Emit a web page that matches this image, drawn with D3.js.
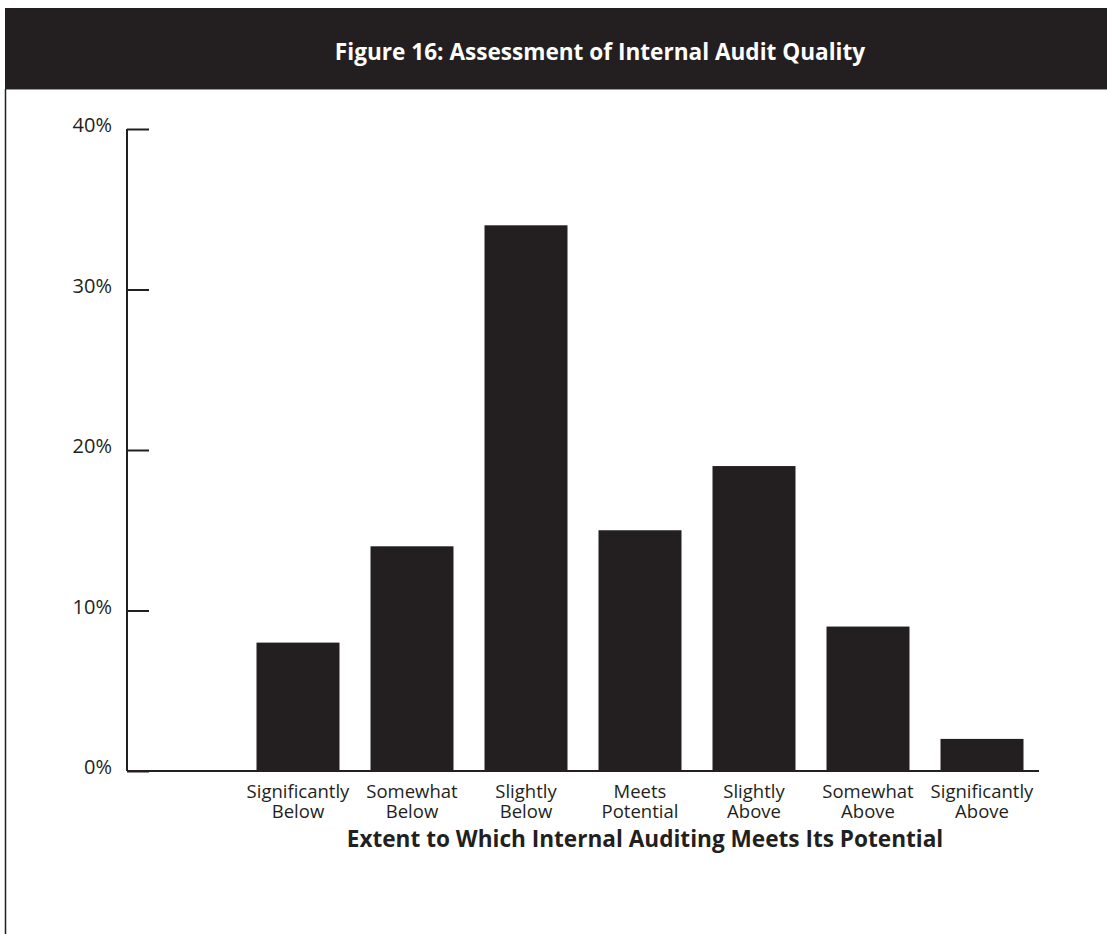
<!DOCTYPE html>
<html><head><meta charset="utf-8">
<script src="https://cdn.jsdelivr.net/npm/d3@7/dist/d3.min.js"></script>
<style>body{margin:0;background:#fff}svg{display:block}</style>
</head><body>
<svg id="c" width="1107" height="934"></svg>
<script>
const categories = ["", "Significantly\nBelow", "Somewhat\nBelow", "Slightly\nBelow", "Meets\nPotential", "Slightly\nAbove", "Somewhat\nAbove", "Significantly\nAbove"];
const values = [null, 8, 14, 34, 15, 19, 9, 2];
const yTicks = [0, 10, 20, 30, 40];
const titleText = "Figure 16: Assessment of Internal Audit Quality";
const xTitle = "Extent to Which Internal Auditing Meets Its Potential";

const dark = "#231f20";
const font = "'Open Sans', sans-serif";
const svg = d3.select("#c");

// header band
svg.append("rect").attr("x", 5).attr("y", 8).attr("width", 1102).attr("height", 81).attr("fill", dark);
svg.append("line").attr("x1", 5).attr("x2", 1107).attr("y1", 89.5).attr("y2", 89.5).attr("stroke", "#999").attr("stroke-width", 1);
svg.append("line").attr("x1", 5.5).attr("x2", 5.5).attr("y1", 89).attr("y2", 934).attr("stroke", dark).attr("stroke-width", 1.5);
svg.append("text").attr("x", 600).attr("y", 59.5).attr("text-anchor", "middle")
  .attr("fill", "#fff").style("font-family", font).style("font-weight", 700).style("font-size", "22.6px").text(titleText);

const x = d3.scaleBand().domain(d3.range(categories.length)).range([127, 1039]).paddingInner(0.272).paddingOuter(0.136);
const y = d3.scaleLinear().domain([0, 40]).range([771, 129]);

const g = svg.append("g");
// bars
g.selectAll("rect.bar").data(values.map((v, i) => ({v, i})).filter(d => d.v != null)).enter()
  .append("rect").attr("class", "bar")
  .attr("x", d => x(d.i)).attr("width", x.bandwidth())
  .attr("y", d => y(d.v)).attr("height", d => y(0) - y(d.v)).attr("fill", dark);

// y axis
const yAxis = d3.axisRight(y).tickValues(yTicks).tickSize(22).tickFormat(d => "");
const ya = g.append("g").attr("transform", "translate(127,0)").call(yAxis);
ya.select(".domain").attr("d", `M0,${y(40)}V${y(0)}`).attr("stroke", dark).attr("stroke-width", 2);
ya.selectAll(".tick line").attr("stroke", dark).attr("stroke-width", 2);
g.selectAll("text.ylab").data(yTicks).enter().append("text").attr("class", "ylab")
  .attr("x", 112).attr("y", d => y(d) + 3).attr("text-anchor", "end")
  .attr("fill", dark).style("font-family", font).style("font-size", "20px").text(d => d + "%");

// x axis baseline
const xAxis = d3.axisBottom(x).tickSize(0).tickFormat("");
const xa = g.append("g").attr("transform", `translate(0,${y(0)})`).call(xAxis);
xa.select(".domain").attr("d", "M127,0H1039").attr("stroke", dark).attr("stroke-width", 2);

// category labels
categories.forEach((c, i) => {
  if (!c) return;
  const lines = c.split("\n");
  const t = g.append("text").attr("text-anchor", "middle").attr("fill", dark)
    .style("font-family", font).style("font-size", "18.5px");
  lines.forEach((l, k) => t.append("tspan").attr("x", x(i) + x.bandwidth() / 2).attr("y", 798 + k * 20).text(l));
});

svg.append("text").attr("x", 645).attr("y", 847).attr("text-anchor", "middle").attr("fill", dark)
  .style("font-family", font).style("font-weight", 700).style("font-size", "22.6px").text(xTitle);
</script>
</body></html>
